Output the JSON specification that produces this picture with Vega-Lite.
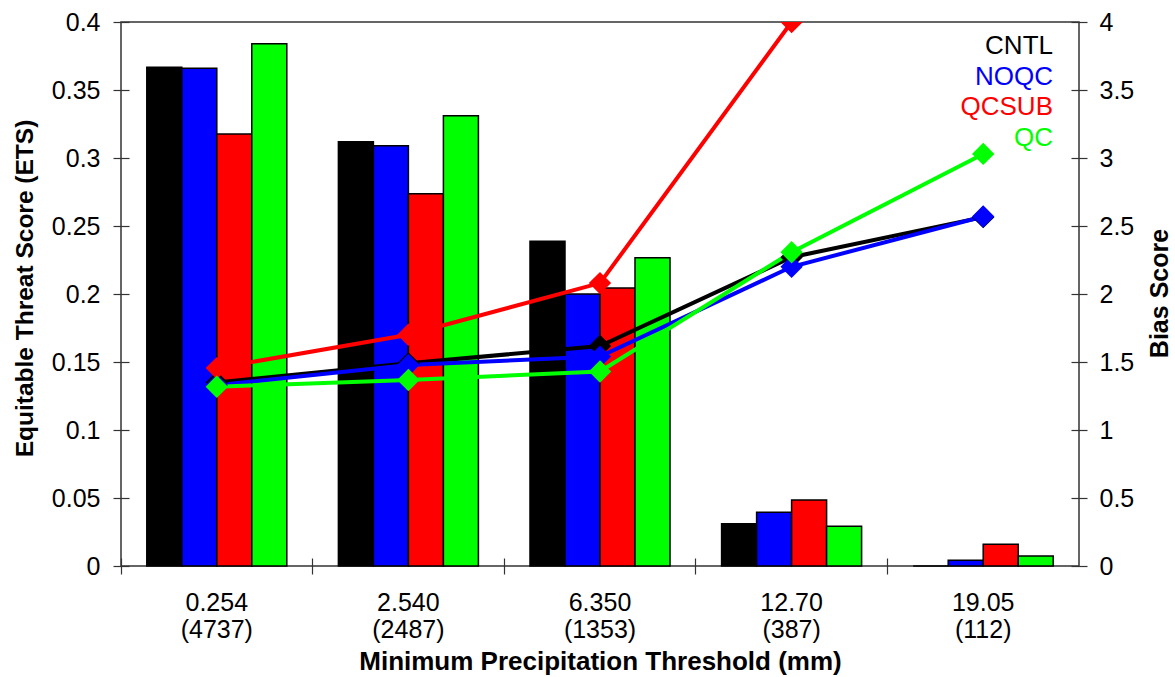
{
  "$schema": "https://vega.github.io/schema/vega-lite/v6.json",
  "width": 958,
  "height": 544,
  "autosize": {"type": "none"},
  "padding": {"left": 121, "top": 22, "right": 96, "bottom": 111},
  "config": {
    "font": "Liberation Sans",
    "view": {"stroke": "#333333", "strokeWidth": 1.5},
    "axis": {"grid": false}
  },
  "data": {
    "values": [
      {"thr": "0.254 (4737)", "run": "CNTL", "ets": 0.3667, "bias": 1.35},
      {"thr": "0.254 (4737)", "run": "NOQC", "ets": 0.366, "bias": 1.33},
      {"thr": "0.254 (4737)", "run": "QCSUB", "ets": 0.3176, "bias": 1.455},
      {"thr": "0.254 (4737)", "run": "QC", "ets": 0.384, "bias": 1.318},
      {"thr": "2.540 (2487)", "run": "CNTL", "ets": 0.312, "bias": 1.49},
      {"thr": "2.540 (2487)", "run": "NOQC", "ets": 0.309, "bias": 1.478},
      {"thr": "2.540 (2487)", "run": "QCSUB", "ets": 0.2738, "bias": 1.7},
      {"thr": "2.540 (2487)", "run": "QC", "ets": 0.331, "bias": 1.368},
      {"thr": "6.350 (1353)", "run": "CNTL", "ets": 0.2387, "bias": 1.618},
      {"thr": "6.350 (1353)", "run": "NOQC", "ets": 0.2, "bias": 1.54},
      {"thr": "6.350 (1353)", "run": "QCSUB", "ets": 0.2044, "bias": 2.08},
      {"thr": "6.350 (1353)", "run": "QC", "ets": 0.2267, "bias": 1.43},
      {"thr": "12.70 (387)", "run": "CNTL", "ets": 0.0311, "bias": 2.27},
      {"thr": "12.70 (387)", "run": "NOQC", "ets": 0.0395, "bias": 2.2},
      {"thr": "12.70 (387)", "run": "QCSUB", "ets": 0.0485, "bias": 4.0},
      {"thr": "12.70 (387)", "run": "QC", "ets": 0.0292, "bias": 2.307},
      {"thr": "19.05 (112)", "run": "CNTL", "ets": 0, "bias": 2.565},
      {"thr": "19.05 (112)", "run": "NOQC", "ets": 0.0042, "bias": 2.57},
      {"thr": "19.05 (112)", "run": "QCSUB", "ets": 0.016, "bias": null},
      {"thr": "19.05 (112)", "run": "QC", "ets": 0.0074, "bias": 3.03}
    ]
  },
  "encoding": {
    "x": {
      "field": "thr",
      "type": "nominal",
      "sort": null,
      "scale": {"paddingInner": 0, "paddingOuter": 0},
      "axis": {
        "orient": "bottom",
        "offset": -8,
        "domain": false,
        "tickSize": 16,
        "tickColor": "#333333",
        "tickWidth": 1.2,
        "bandPosition": 0,
        "labelAngle": 0,
        "labelPadding": 16,
        "labelFontSize": 25,
        "labelLineHeight": 27,
        "labelColor": "#000000",
        "labelExpr": "split(datum.label, ' ')",
        "title": "Minimum Precipitation Threshold (mm)",
        "titleFontSize": 26,
        "titleFontWeight": "bold",
        "titleColor": "#000000",
        "titleX": 479,
        "titleY": 111,
        "titleAlign": "center",
        "titleBaseline": "alphabetic"
      }
    },
    "color": {
      "field": "run",
      "type": "nominal",
      "scale": {
        "domain": ["CNTL", "NOQC", "QCSUB", "QC"],
        "range": ["#000000", "#0000ff", "#ff0000", "#00ff00"]
      },
      "legend": {
        "orient": "none",
        "legendX": 906,
        "legendY": 11,
        "padding": 0,
        "title": null,
        "symbolOpacity": 0,
        "symbolSize": 0,
        "symbolStrokeWidth": 0,
        "labelFontSize": 26,
        "labelAlign": "right",
        "labelOffset": 0,
        "rowPadding": 4.5,
        "encode": {
          "labels": {"update": {"fill": {"scale": "color", "field": "value"}}}
        }
      }
    }
  },
  "layer": [
    {
      "mark": {"type": "bar", "stroke": "#000000", "strokeWidth": 1.5},
      "encoding": {
        "xOffset": {
          "field": "run",
          "type": "nominal",
          "sort": ["CNTL", "NOQC", "QCSUB", "QC"],
          "scale": {"paddingInner": 0, "paddingOuter": 0.737}
        },
        "y": {
          "field": "ets",
          "type": "quantitative",
          "scale": {"domain": [0, 0.4], "nice": false},
          "axis": {
            "orient": "left",
            "offset": -8,
            "domain": false,
            "values": [0, 0.05, 0.1, 0.15, 0.2, 0.25, 0.3, 0.35, 0.4],
            "format": "~g",
            "tickSize": 16,
            "tickColor": "#333333",
            "tickWidth": 1.2,
            "labelPadding": 13,
            "labelFontSize": 25,
            "labelColor": "#000000",
            "title": "Equitable Threat Score (ETS)",
            "titleFontSize": 24.5,
            "titleFontWeight": "bold",
            "titleColor": "#000000",
            "titleAngle": 270,
            "titleX": -104,
            "titleY": 266,
            "titleAlign": "center",
            "titleBaseline": "middle"
          }
        }
      }
    },
    {
      "mark": {
        "type": "line",
        "strokeWidth": 4,
        "clip": true,
        "point": {"shape": "diamond", "size": 500, "filled": true, "opacity": 1}
      },
      "encoding": {
        "y": {
          "field": "bias",
          "type": "quantitative",
          "scale": {"domain": [0, 4], "nice": false},
          "axis": {
            "orient": "right",
            "offset": -8,
            "domain": false,
            "values": [0, 0.5, 1, 1.5, 2, 2.5, 3, 3.5, 4],
            "format": "~g",
            "tickSize": 16,
            "tickColor": "#333333",
            "tickWidth": 1.2,
            "labelPadding": 12,
            "labelFontSize": 25,
            "labelColor": "#000000",
            "title": "Bias Score",
            "titleFontSize": 25,
            "titleFontWeight": "bold",
            "titleColor": "#000000",
            "titleAngle": 270,
            "titleX": 88,
            "titleY": 271,
            "titleAlign": "center",
            "titleBaseline": "middle"
          }
        }
      }
    }
  ],
  "resolve": {"scale": {"y": "independent"}}
}
